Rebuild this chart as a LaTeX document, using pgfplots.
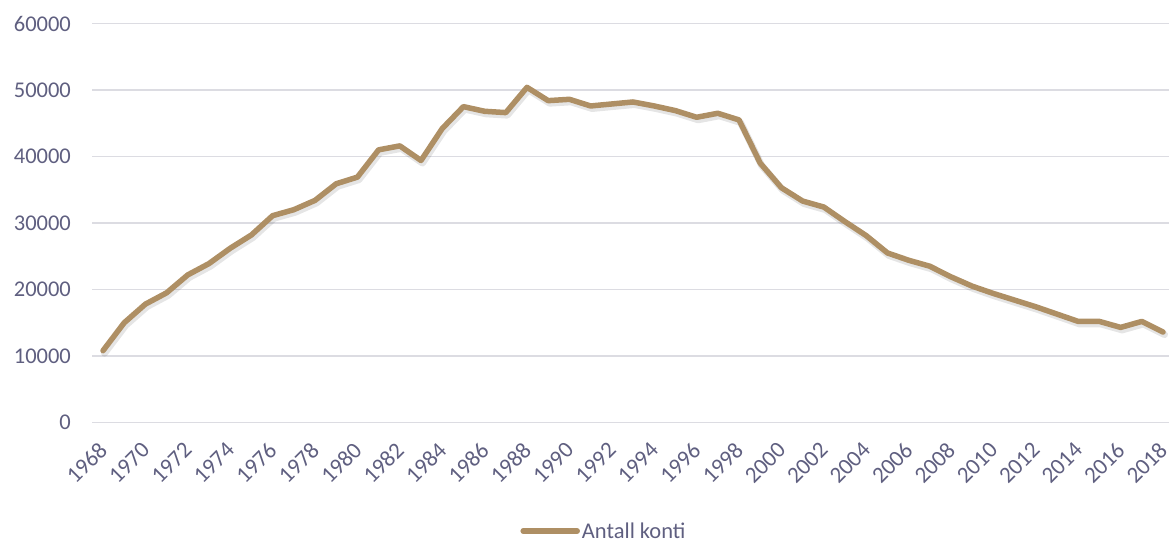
\documentclass[border=0pt]{standalone}
\usepackage{pgfplots}
\pgfplotsset{compat=1.18}
\usepackage{fontspec}
\setmainfont{Carlito}
\definecolor{linec}{HTML}{AE8F64}
\definecolor{txtc}{HTML}{5F5F80}
\definecolor{gridc}{HTML}{DCDCE2}
\pgfplotstableread{
year value
1968 10800
1969 15000
1970 17800
1971 19500
1972 22200
1973 23900
1974 26200
1975 28200
1976 31100
1977 32000
1978 33400
1979 35900
1980 36900
1981 41000
1982 41600
1983 39400
1984 44200
1985 47500
1986 46800
1987 46600
1988 50400
1989 48400
1990 48600
1991 47600
1992 47900
1993 48200
1994 47600
1995 46900
1996 45900
1997 46500
1998 45500
1999 39000
2000 35300
2001 33300
2002 32400
2003 30200
2004 28100
2005 25500
2006 24400
2007 23500
2008 21900
2009 20500
2010 19400
2011 18400
2012 17400
2013 16300
2014 15200
2015 15200
2016 14300
2017 15200
2018 13600
}\datatable
\begin{document}
\begin{tikzpicture}
\useasboundingbox (-92.4bp,-117.5bp) rectangle (1077.6bp,422.5bp);
\begin{axis}[
  at={(0,0)}, anchor=south west,
  scale only axis,
  width=1077bp, height=399bp,
  xmin=1967.5, xmax=2018.3,
  ymin=0, ymax=60000,
  xtick={1968,1970,...,2018},
  ytick={0,10000,...,60000},
  axis line style={draw=none},
  major tick length=0pt,
  ymajorgrids,
  grid style={gridc, line width=1.5bp},
  scaled y ticks=false,
  clip=false,
  /pgf/number format/.cd, assume math mode=true, 1000 sep={}, /pgfplots/.cd,
  tick label style={font=\fontsize{22.5bp}{26bp}\selectfont, text=txtc},
  yticklabel style={xshift=-18bp},
  xticklabel style={xshift=1bp, yshift=-23bp, rotate=45, anchor=east, inner sep=1bp,
    font=\fontsize{23bp}{26bp}\selectfont},
  legend style={draw=none, fill=none, at={(0.475,-0.272)}, anchor=center,
    font=\fontsize{22.5bp}{26bp}\selectfont, text=txtc, inner sep=0pt},
  legend image code/.code={\draw[#1, line cap=round] (0bp,0bp) -- (54bp,0bp);},
  legend cell align=left,
]
\addplot[black, opacity=0.10, line width=7bp, line join=round, line cap=round,
  shift={(1.5bp,-2.5bp)}, forget plot] table[x=year, y=value] {\datatable};
\addplot[linec, line width=5.5bp, line join=round, line cap=round] table[x=year, y=value] {\datatable};
\addlegendentry{Antall konti}
\end{axis}
\end{tikzpicture}
\end{document}
